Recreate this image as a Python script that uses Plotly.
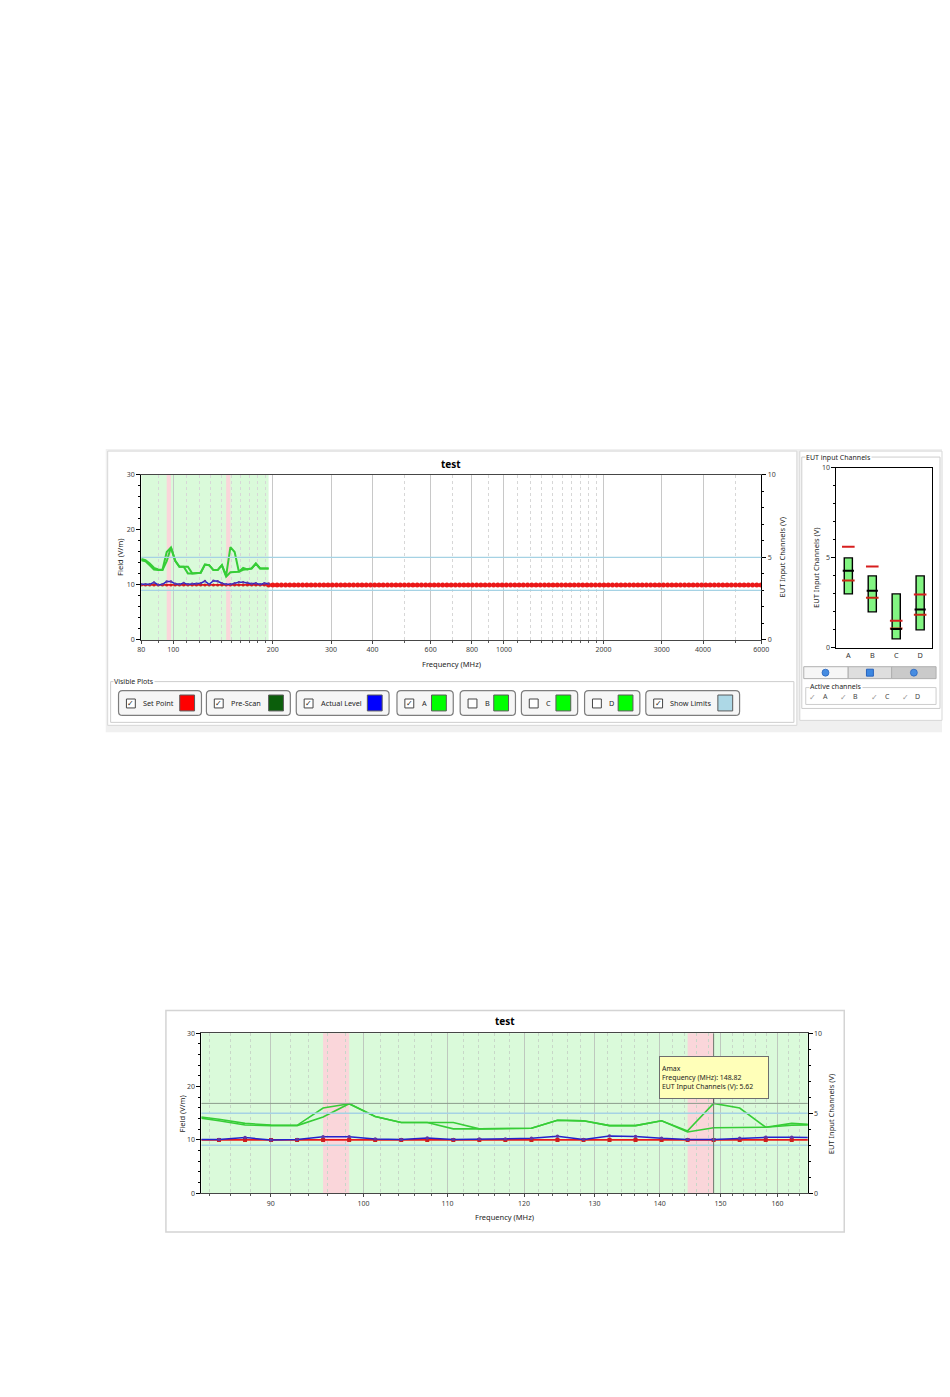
import math
import plotly.graph_objects as go

# ---------- values ----------
# sweep frequencies [MHz], 80 MHz ... 6 GHz
freq = [80.00, 82.40, 84.87, 87.42, 90.04, 92.74, 95.52, 98.39, 101.34, 104.38,
        107.51, 110.74, 114.06, 117.48, 121.01, 124.64, 128.38, 132.23, 136.19, 140.28,
        144.49, 148.82, 153.29, 157.89, 162.62, 167.50, 172.53, 177.70, 183.03, 188.53,
        194.18, 200.0, 206.0, 212.2, 218.6, 225.1, 231.9, 238.8, 246.0, 253.4,
        261.0, 268.8, 276.9, 285.2, 293.7, 302.5, 311.6, 321.0, 330.6, 340.5,
        350.7, 361.2, 372.1, 383.2, 394.7, 406.6, 418.8, 431.3, 444.3, 457.6,
        471.3, 485.5, 500.0, 515.0, 530.5, 546.4, 562.8, 579.7, 597.1, 615.0,
        633.4, 652.4, 672.0, 692.2, 712.9, 734.3, 756.3, 779.0, 802.4, 826.5,
        851.3, 876.8, 903.1, 930.2, 958.1, 986.9, 1016.5, 1047.0, 1078.4, 1110.7,
        1144.0, 1178.4, 1213.7, 1250.1, 1287.6, 1326.3, 1366.0, 1407.0, 1449.2, 1492.7,
        1537.5, 1583.6, 1631.1, 1680.1, 1730.5, 1782.4, 1835.8, 1890.9, 1947.6, 2006.1,
        2066.3, 2128.2, 2192.1, 2257.9, 2325.6, 2395.4, 2467.2, 2541.2, 2617.5, 2696.0,
        2776.9, 2860.2, 2946.0, 3034.4, 3125.4, 3219.2, 3315.7, 3415.2, 3517.7, 3623.2,
        3731.9, 3843.8, 3959.2, 4077.9, 4200.3, 4326.3, 4456.1, 4589.8, 4727.4, 4869.3,
        5015.3, 5165.8, 5320.8, 5480.4, 5644.8, 5814.2, 5988.6]

set_point_level = 10.0  # [V/m]
set_point = [set_point_level] * len(freq)

# measured part of the sweep (80 ... 194 MHz)
actual_level = [10.1, 10.1, 10.1, 10.45, 10.0, 10.1, 10.6, 10.6, 10.2, 10.1,
                10.35, 10.1, 10.2, 10.2, 10.3, 10.7, 10.1, 10.75, 10.65, 10.3,
                10.1, 10.1, 10.3, 10.5, 10.5, 10.4, 10.2, 10.3, 10.1, 10.3, 10.2]  # [V/m]
chan_a = [4.83, 4.77, 4.53, 4.27, 4.23, 4.23, 4.77, 5.60, 4.80, 4.43,
          4.43, 4.03, 4.03, 4.03, 4.07, 4.57, 4.53, 4.23, 4.23, 4.53,
          3.83, 4.10, 4.13, 4.13, 4.25, 4.27, 4.33, 4.63, 4.33, 4.33, 4.33]  # [V]
chan_a_max = [4.90, 4.83, 4.63, 4.37, 4.27, 4.25, 5.33, 5.60, 4.80, 4.43,
              4.43, 4.43, 4.03, 4.03, 4.07, 4.57, 4.53, 4.23, 4.23, 4.53,
              3.90, 5.62, 5.33, 4.13, 4.37, 4.27, 4.33, 4.63, 4.33, 4.33, 4.33]  # [V]
n_scan = len(actual_level)

# frequency ranges where the limits were exceeded
exceed_start = [95.52, 144.49]
exceed_stop = [98.39, 148.82]

# EUT input channels panel [V]
channels = ['A', 'B', 'C', 'D']
ch_low = [3.0, 2.0, 0.5, 1.0]
ch_high = [5.0, 4.0, 3.0, 4.0]
ch_level = [4.28, 3.18, 1.05, 2.13]
ch_min = [3.75, 2.79, 1.08, 1.84]
ch_max = [5.62, 4.52, 1.51, 2.96]

tip_index = 21  # Amax tooltip point

top_ticks = [80, 100, 200, 300, 400, 600, 800, 1000, 2000, 3000, 4000, 6000]
zoom_ticks = [90, 100, 110, 120, 130, 140, 150, 160]

plot_names = ['Set Point', 'Pre-Scan', 'Actual Level', 'A', 'B', 'C', 'D', 'Show Limits']
plot_colors = ['#ff0000', '#0b5e0b', '#0000ff', '#00ff00', '#00ff00', '#00ff00', '#00ff00', '#add8e6']
plot_checked = [True, True, True, True, False, False, False, True]


# ---------- page geometry ----------
W, H = 950, 1397


def px(x):
    return x / W


def py(y):
    return 1 - y / H


RED = 'rgb(235,25,25)'
BLUE = 'rgb(35,35,205)'
GREEN = 'rgb(55,205,55)'
LIMIT = 'rgb(165,210,228)'
GREEN_BG = 'rgb(218,250,218)'
PINK_BG = 'rgb(250,214,218)'
TICKFONT = dict(size=7, color='rgb(60,60,60)')

shapes = []
annotations = []


def rect(x0, y0, x1, y1, fill=None, line='rgba(0,0,0,0)', width=1):
    shapes.append(dict(type='rect', xref='paper', yref='paper', layer='below',
                       x0=px(x0), x1=px(x1), y0=py(y1), y1=py(y0),
                       fillcolor=fill or 'rgba(0,0,0,0)', line=dict(color=line, width=width)))


def rrect(x0, y0, x1, y1, r=4, fill=None, line='rgb(120,120,120)', width=1):
    path = (f"M{px(x0 + r)},{py(y0)} L{px(x1 - r)},{py(y0)} Q{px(x1)},{py(y0)} {px(x1)},{py(y0 + r)} "
            f"L{px(x1)},{py(y1 - r)} Q{px(x1)},{py(y1)} {px(x1 - r)},{py(y1)} "
            f"L{px(x0 + r)},{py(y1)} Q{px(x0)},{py(y1)} {px(x0)},{py(y1 - r)} "
            f"L{px(x0)},{py(y0 + r)} Q{px(x0)},{py(y0)} {px(x0 + r)},{py(y0)} Z")
    shapes.append(dict(type='path', xref='paper', yref='paper', layer='below', path=path,
                       fillcolor=fill or 'rgba(0,0,0,0)', line=dict(color=line, width=width)))


def label(x, y, s, size=7, color='rgb(30,30,30)', angle=0, anchor='center', bg=None):
    annotations.append(dict(xref='paper', yref='paper', x=px(x), y=py(y), text=s, showarrow=False,
                            font=dict(size=size, color=color), textangle=angle,
                            xanchor=anchor, yanchor='middle', borderpad=0,
                            bgcolor=bg or 'rgba(0,0,0,0)'))


# ---------- screenshot panels ----------
rect(103, 447, 950, 732, fill='rgb(240,240,240)')
rect(105, 449, 803, 725, fill='white', line='rgb(215,215,215)')
rect(806, 449, 950, 720, fill='white', line='rgb(215,215,215)')
rect(164, 1012, 851, 1235, fill='white', line='rgb(212,212,212)', width=1.5)

# "Visible Plots" group
rect(108, 681, 800, 722, line='rgb(205,205,205)')
label(110, 681, 'Visible Plots', size=7, anchor='left', bg='white')
item_x = [(116, 200), (205, 290), (296, 390), (398, 455), (462, 518), (524, 581), (588, 644), (650, 745)]
for (x0, x1), name, col, on in zip(item_x, plot_names, plot_colors, plot_checked):
    rrect(x0, 690, x1, 715, r=4, fill='rgb(246,246,246)', line='rgb(125,125,125)', width=1.2)
    rect(x0 + 8, 698.5, x0 + 17, 707.5, fill='white', line='rgb(70,70,70)')
    if on:
        label(x0 + 12.5, 702.5, '✓', size=8, color='rgb(30,30,30)')
    label(x0 + 24, 702.5, name, size=7.3, anchor='left')
    rect(x1 - 22, 694.5, x1 - 7, 710.5, fill=col, line='rgb(90,90,90)')

# "EUT input Channels" group
rect(808, 455, 948, 708, line='rgb(205,205,205)')
label(811, 455, 'EUT input Channels', size=7, anchor='left', bg='white')
rect(810, 666, 855, 678, fill='rgb(246,246,246)', line='rgb(175,175,175)')
rect(855, 666, 899, 678, fill='rgb(222,222,222)', line='rgb(175,175,175)')
rect(899, 666, 944, 678, fill='rgb(202,202,202)', line='rgb(175,175,175)')
for cx in (832, 921.5):
    shapes.append(dict(type='circle', xref='paper', yref='paper', layer='below',
                       x0=px(cx - 3.5), x1=px(cx + 3.5), y0=py(675.5), y1=py(668.5),
                       fillcolor='rgb(70,140,225)', line=dict(color='rgb(40,100,190)', width=0.8)))
rect(873.5, 668.5, 880.5, 675.5, fill='rgb(60,135,225)', line='rgb(40,100,190)')
rect(812, 687, 944, 704, line='rgb(205,205,205)')
label(815, 686, 'Active channels', size=7, anchor='left', bg='white')
for cx, ch in zip((819, 850, 882, 913), channels):
    label(cx, 696, '✓', size=7.5, color='rgb(150,150,150)')
    label(cx + 9, 696, ch, size=7, color='rgb(70,70,70)', anchor='left')

# ---------- chart decorations ----------
for xr, yr, yr_v in (('x', 'y', 'y2'), ('x4', 'y4', 'y5')):
    shapes.append(dict(type='rect', xref=xr, yref=yr + ' domain', layer='below',
                       x0=freq[0], x1=freq[n_scan - 1], y0=0, y1=1,
                       fillcolor=GREEN_BG, line=dict(width=0)))
    for f0, f1 in zip(exceed_start, exceed_stop):
        shapes.append(dict(type='rect', xref=xr, yref=yr + ' domain', layer='below',
                           x0=f0, x1=f1, y0=0, y1=1, fillcolor=PINK_BG, line=dict(width=0)))
    for lim in (ch_low[0], ch_high[0]):
        shapes.append(dict(type='line', xref=xr + ' domain', yref=yr_v, layer='above',
                           x0=0, x1=1, y0=lim, y1=lim, line=dict(color=LIMIT, width=1.4)))

# crosshair on the zoomed chart
shapes.append(dict(type='line', xref='x4', yref='y4 domain', layer='above',
                   x0=freq[tip_index], x1=freq[tip_index], y0=0, y1=1,
                   line=dict(color='rgb(110,120,110)', width=1)))
shapes.append(dict(type='line', xref='x4 domain', yref='y5', layer='above',
                   x0=0, x1=1, y0=chan_a_max[tip_index], y1=chan_a_max[tip_index],
                   line=dict(color='rgb(140,155,140)', width=1)))

annotations.append(dict(xref='x4', yref='y5', x=math.log10(freq[tip_index]), y=chan_a_max[tip_index],
                        text=(f"Amax<br>Frequency (MHz): {freq[tip_index]:.2f}"
                              f"<br>EUT Input Channels (V): {chan_a_max[tip_index]:.2f}"),
                        showarrow=True, arrowhead=0, arrowwidth=1, arrowcolor='rgb(90,90,90)',
                        ax=0, ay=-26, align='left', width=104, height=37,
                        bgcolor='rgb(255,255,185)', bordercolor='rgb(110,110,110)', borderwidth=1,
                        borderpad=2, font=dict(size=6.9, color='rgb(30,30,30)')))

# chart texts
label(453, 462, '<b>test</b>', size=10, color='black')
label(118, 556, 'Field (V/m)', size=7.5, angle=-90)
label(788, 556, 'EUT Input Channels (V)', size=7.5, angle=-90)
label(453, 663, 'Frequency (MHz)', size=7.5)
label(823, 567, 'EUT Input Channels (V)', size=7.5, angle=-90)
label(507, 1023, '<b>test</b>', size=10, color='black')
label(180, 1116, 'Field (V/m)', size=7.5, angle=-90)
label(837, 1116, 'EUT Input Channels (V)', size=7.5, angle=-90)
label(507, 1220, 'Frequency (MHz)', size=7.5)

# ---------- traces ----------
fig = go.Figure()

for xa, ya, yv, big in (('x', 'y', 'y2', True), ('x4', 'y4', 'y5', False)):
    fig.add_trace(go.Scatter(x=freq[:n_scan], y=set_point[:n_scan], xaxis=xa, yaxis=ya,
                             mode='lines+markers', line=dict(color=RED, width=1.8),
                             marker=dict(size=3 if big else 4, color='rgb(205,30,30)',
                                         symbol='circle' if big else 'square')))
    if big:
        fig.add_trace(go.Scatter(x=freq[n_scan - 1:], y=set_point[n_scan - 1:], xaxis=xa, yaxis=ya,
                                 mode='lines+markers', line=dict(color=RED, width=1.5),
                                 marker=dict(size=5, color=RED)))
    fig.add_trace(go.Scatter(x=freq[:n_scan], y=actual_level, xaxis=xa, yaxis=ya,
                             mode='lines+markers', line=dict(color=BLUE, width=1.5),
                             marker=dict(size=2.5 if big else 3.5, color='rgb(95,55,165)')))
    for series in (chan_a, chan_a_max):
        fig.add_trace(go.Scatter(x=freq[:n_scan], y=series, xaxis=xa, yaxis=yv, mode='lines',
                                 line=dict(color=GREEN, width=2 if big else 1.6)))

# EUT input channel boxes
fig.add_trace(go.Bar(x=channels, y=[h - l for h, l in zip(ch_high, ch_low)], base=ch_low,
                     xaxis='x3', yaxis='y3', width=0.34,
                     marker=dict(color='rgb(130,245,130)', line=dict(color='black', width=1.4))))
fig.add_trace(go.Scatter(x=channels, y=ch_max, xaxis='x3', yaxis='y3', mode='markers',
                         marker=dict(symbol='line-ew', size=9, line=dict(color='rgb(215,30,30)', width=2))))
fig.add_trace(go.Scatter(x=channels, y=ch_min, xaxis='x3', yaxis='y3', mode='markers',
                         marker=dict(symbol='line-ew', size=9, line=dict(color='rgb(200,40,20)', width=2))))
fig.add_trace(go.Scatter(x=channels, y=ch_level, xaxis='x3', yaxis='y3', mode='markers',
                         marker=dict(symbol='line-ew', size=8, line=dict(color='black', width=2))))

# ---------- axes ----------
top_minor = [90] + list(range(110, 200, 10)) + [500, 700, 900] + list(range(1100, 2000, 100)) + [5000]
zoom_minor = [v for v in range(84, 166, 2) if v % 10]

frame = dict(showline=True, linecolor='rgb(70,70,70)', linewidth=1, zeroline=False, tickfont=TICKFONT)
yleft = dict(range=[0, 30], tickvals=[0, 10, 20, 30], ticks='outside', ticklen=4, tickcolor='black',
             minor=dict(dtick=2, ticks='outside', ticklen=2, tickcolor='black'),
             showgrid=False, showline=True, linecolor='black', zeroline=False, tickfont=TICKFONT)
yright = dict(range=[0, 10], tickvals=[0, 5, 10], ticks='outside', ticklen=4, tickcolor='black',
              minor=dict(dtick=1, ticks='outside', ticklen=2, tickcolor='black'),
              showgrid=False, showline=True, linecolor='black', zeroline=False, tickfont=TICKFONT,
              side='right')

fig.update_layout(
    width=W, height=H, margin=dict(l=0, r=0, t=0, b=0),
    paper_bgcolor='white', plot_bgcolor='rgba(0,0,0,0)',
    font=dict(family='Noto Sans', size=7, color='rgb(30,30,30)'),
    showlegend=False, shapes=shapes, annotations=annotations,
    xaxis=dict(domain=[px(139), px(767)], anchor='y', type='log',
               range=[math.log10(80), math.log10(6000)],
               tickvals=top_ticks, ticktext=[str(t) for t in top_ticks],
               ticks='outside', ticklen=3, tickcolor='rgb(70,70,70)',
               showgrid=True, gridcolor='rgb(200,200,200)', gridwidth=1, mirror=True,
               minor=dict(tickvals=top_minor, ticks='outside', ticklen=2, tickcolor='rgb(90,90,90)',
                          showgrid=True, gridcolor='rgb(215,215,215)', griddash='dot'),
               **frame),
    yaxis=dict(domain=[py(639), py(473)], anchor='x', **yleft),
    yaxis2=dict(overlaying='y', anchor='x', **yright),
    xaxis3=dict(domain=[px(843), px(940)], anchor='y3', type='category', range=[-0.5, 3.5],
                showline=True, mirror=True, linecolor='black', ticks='', showgrid=False,
                zeroline=False, tickfont=dict(size=7.3, color='rgb(50,50,50)')),
    yaxis3=dict(domain=[py(647), py(466)], anchor='x3', range=[0, 10], tickvals=[0, 5, 10],
                ticks='outside', ticklen=4, tickcolor='black',
                minor=dict(dtick=1, ticks='outside', ticklen=2, tickcolor='black'),
                showline=True, mirror=True, linecolor='black', showgrid=False, zeroline=False,
                tickfont=TICKFONT),
    xaxis4=dict(domain=[px(200), px(814)], anchor='y4', type='log',
                range=[math.log10(83.2), math.log10(165.6)],
                tickvals=zoom_ticks, ticktext=[str(t) for t in zoom_ticks],
                ticks='outside', ticklen=3, tickcolor='rgb(70,70,70)',
                showgrid=True, gridcolor='rgb(190,200,190)', gridwidth=1, mirror=True,
                minor=dict(tickvals=zoom_minor, ticks='outside', ticklen=2, tickcolor='rgb(90,90,90)',
                           showgrid=True, gridcolor='rgb(200,215,200)', griddash='dot'),
                **frame),
    yaxis4=dict(domain=[py(1196), py(1035)], anchor='x4', **yleft),
    yaxis5=dict(overlaying='y4', anchor='x4', **yright),
)

# the default page has an 8px body margin; remove it so the figure sits at (0, 0)
fig.write_html("out.html", config={'displayModeBar': False},
               post_script="document.body.style.margin='0px';document.body.style.overflow='hidden';")
